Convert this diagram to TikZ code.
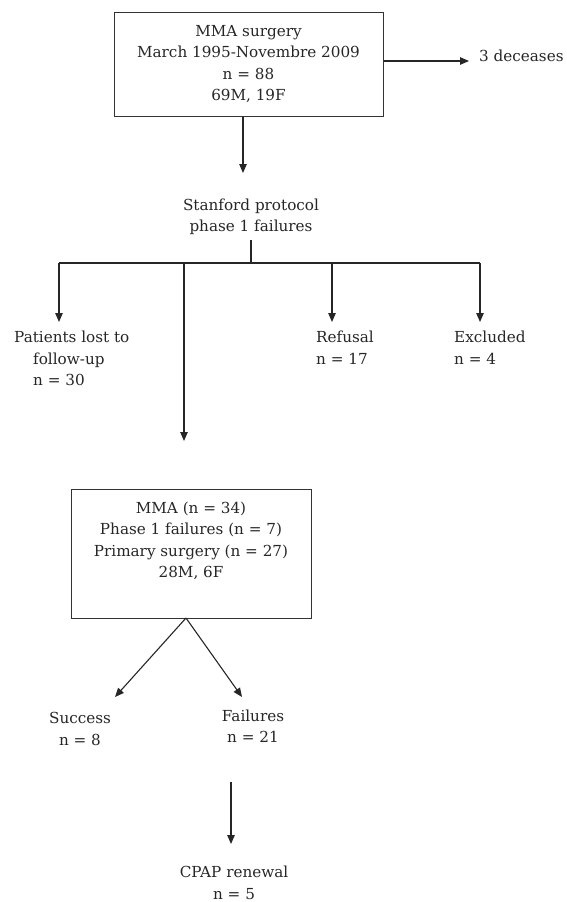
\documentclass[tikz,border=0pt]{standalone}
\usepackage{fontspec}
\setmainfont{DejaVu Serif}
\usetikzlibrary{arrows.meta}
\begin{document}
\begin{tikzpicture}[x=1pt,y=-1pt,
  txt/.style={font=\fontsize{15.2}{21.5}\selectfont, text=black!85, inner sep=0pt, align=center},
  boxnode/.style={txt, draw=black!80, line width=1pt, inner sep=0pt},
  conn/.style={draw=black!85, line width=1.1pt},
  arr/.style={conn, -{Triangle[length=9pt,width=7.5pt]}}]
\useasboundingbox (0,0) rectangle (567,902);
% nodes
\node[boxnode, minimum width=269pt, minimum height=104pt] (box1) at (248.5,64)
  {MMA surgery\\March 1995-Novembre 2009\\n = 88\\69M, 19F};
\node[txt, anchor=west] (dec) at (479,56) {3 deceases};
\node[txt] (stan) at (251,217) {Stanford protocol\\phase 1 failures};
\node[txt, align=left, anchor=north west] (lost) at (14,331) {Patients lost to\\\hspace*{19pt}follow-up\\\hspace*{19pt}n = 30};
\node[txt, align=left, anchor=north west] (ref) at (316,331) {Refusal\\n = 17};
\node[txt, align=left, anchor=north west] (exc) at (454,331) {Excluded\\n = 4};
\node[boxnode, minimum width=240pt, minimum height=129pt] (box2) at (191,553.5)
  {MMA (n = 34)\\Phase 1 failures (n = 7)\\Primary surgery (n = 27)\\28M, 6F\\ \strut};
\node[txt] (succ) at (80,729) {Success\\n = 8};
\node[txt] (fail) at (253,726) {Failures\\n = 21};
\node[txt] (cpap) at (234,883) {CPAP renewal\\n = 5};
% coordinates
\coordinate (dectip) at (469,61);
\coordinate (stantip) at (243,173);
\coordinate (stemtop) at (251,240);
\coordinate (bar) at (251,263);
\coordinate (barL) at (59,263);
\coordinate (barR) at (480,263);
\coordinate (lostTip) at (59,322);
\coordinate (mmaTop) at (184,263);
\coordinate (mmaTip) at (184,441);
\coordinate (refTop) at (332,263);
\coordinate (refTip) at (332,322);
\coordinate (excTip) at (480,322);
\coordinate (apex) at (186,618);
\coordinate (succTip) at (115,697);
\coordinate (failTip) at (242,697);
\coordinate (cpapTop) at (231,782);
\coordinate (cpapTip) at (231,844);
% connectors
\draw[arr] (box1.east |- dectip) -- (dectip);
\draw[arr] (box1.south -| stantip) -- (stantip);
\draw[conn] (stemtop) -- (bar);
\draw[conn] (barL) -- (barR);
\draw[arr] (barL) -- (lostTip);
\draw[arr] (mmaTop) -- (mmaTip);
\draw[arr] (refTop) -- (refTip);
\draw[arr] (barR) -- (excTip);
\draw[arr] (apex) -- (succTip);
\draw[arr] (apex) -- (failTip);
\draw[arr] (cpapTop) -- (cpapTip);
\end{tikzpicture}
\end{document}
